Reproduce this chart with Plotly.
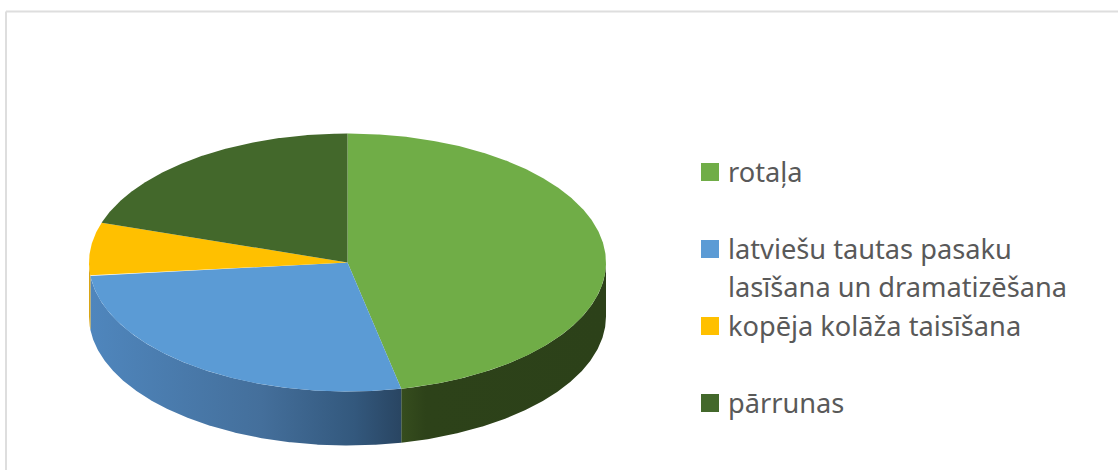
import numpy as np
import plotly.graph_objects as go

# data
categories = ["rotaļa", "latviešu tautas pasaku lasīšana un dramatizēšana", "kopēja kolāža taisīšana", "pārrunas"]
legend_lines = [["rotaļa"], ["latviešu tautas pasaku", "lasīšana un dramatizēšana"], ["kopēja kolāža taisīšana"], ["pārrunas"]]
values = [7, 4, 1, 3]
top_colors = ["#70ad47", "#5b9bd5", "#ffc000", "#43682b"]
side_grad = [
    [[0, "#364d1e"], [0.12, "#2d4219"], [1, "#2c4119"]],
    [[0, "#4f86bd"], [0.55, "#446f9b"], [0.85, "#33587d"], [1, "#294562"]],
    [[0, "#d9a514"], [1, "#d9a514"]],
    [[0, "#2c4119"], [1, "#2c4119"]],
]

# layout (pixels)
W, H = 1118, 470
CX, CY, RX, RY, DEPTH = 347.5, 262.5, 258.5, 129, 54
LEG_X, TXT_X, LEG_SIZE = 710, 728, 18
LEG_Y = [172, 249, 326, 403]
LINE_GAP = 38
TXT_DY = -1
FONT = dict(family="Noto Sans", size=27.2, color="#595959")


def rim(t0, t1):
    n = max(2, int(abs(t1 - t0) * 180))
    t = np.linspace(t0, t1, n)
    return CX + RX * np.sin(t), CY - RY * np.cos(t)


fig = go.Figure()
edges = np.concatenate([[0], np.cumsum(values)]) / np.sum(values) * 2 * np.pi

# side walls: only the front half of the rim (pi/2 .. 3pi/2) is visible
for i in range(len(values)):
    a, b = max(edges[i], np.pi / 2), min(edges[i + 1], 3 * np.pi / 2)
    if b <= a:
        continue
    x, y = rim(a, b)
    px = np.concatenate([x, x[::-1], x[:1]])
    py = np.concatenate([y, y[::-1] + DEPTH, y[:1]])
    # colours run along the wall; the first wall runs left-to-right, the second is reversed below
    scale = side_grad[i]
    if i == 0:
        fig.add_trace(go.Scatter(
            x=px, y=py, mode="lines", line=dict(width=0), fill="toself",
            fillgradient=dict(type="horizontal", colorscale=scale),
            hoverinfo="skip", showlegend=False))
    elif i == 1:
        fig.add_trace(go.Scatter(
            x=px, y=py, mode="lines", line=dict(width=0), fill="toself",
            fillgradient=dict(type="horizontal", colorscale=scale),
            hoverinfo="skip", showlegend=False))
    else:
        fig.add_trace(go.Scatter(
            x=px, y=py, mode="lines", line=dict(width=0), fill="toself",
            fillcolor=scale[0][1], hoverinfo="skip", showlegend=False))

# top slices
for i in range(len(values)):
    x, y = rim(edges[i], edges[i + 1])
    fig.add_trace(go.Scatter(
        x=np.concatenate([[CX], x, [CX]]), y=np.concatenate([[CY], y, [CY]]),
        mode="lines", line=dict(width=0), fill="toself", fillcolor=top_colors[i],
        name=categories[i], hoverinfo="name", showlegend=False))

# legend
fig.add_trace(go.Scatter(
    x=[LEG_X] * len(LEG_Y), y=LEG_Y, mode="markers",
    marker=dict(symbol="square", size=LEG_SIZE, color=top_colors, line=dict(width=0)),
    hoverinfo="skip", showlegend=False))

annotations = []
for lines, ly in zip(legend_lines, LEG_Y):
    for j, line in enumerate(lines):
        annotations.append(dict(x=TXT_X, y=ly + TXT_DY + j * LINE_GAP, text=line, showarrow=False,
                                xanchor="left", yanchor="middle", xref="x", yref="y",
                                font=FONT, borderpad=0, borderwidth=0))

# chart frame (top and left edges visible)
frame = dict(type="line", line=dict(color="#dedede", width=2), xref="x", yref="y")
shapes = [dict(x0=6, x1=W, y0=11.5, y1=11.5, **frame), dict(x0=6, x1=6, y0=11.5, y1=H, **frame)]

fig.update_layout(
    width=W, height=H, margin=dict(l=0, r=0, t=0, b=0),
    paper_bgcolor="white", plot_bgcolor="white",
    xaxis=dict(range=[0, W], visible=False, fixedrange=True),
    yaxis=dict(range=[H, 0], visible=False, fixedrange=True),
    annotations=annotations, shapes=shapes)

fig.write_html("out.html", config=dict(displayModeBar=False),
               post_script="document.body.style.margin='0';document.documentElement.style.overflow='hidden';")
